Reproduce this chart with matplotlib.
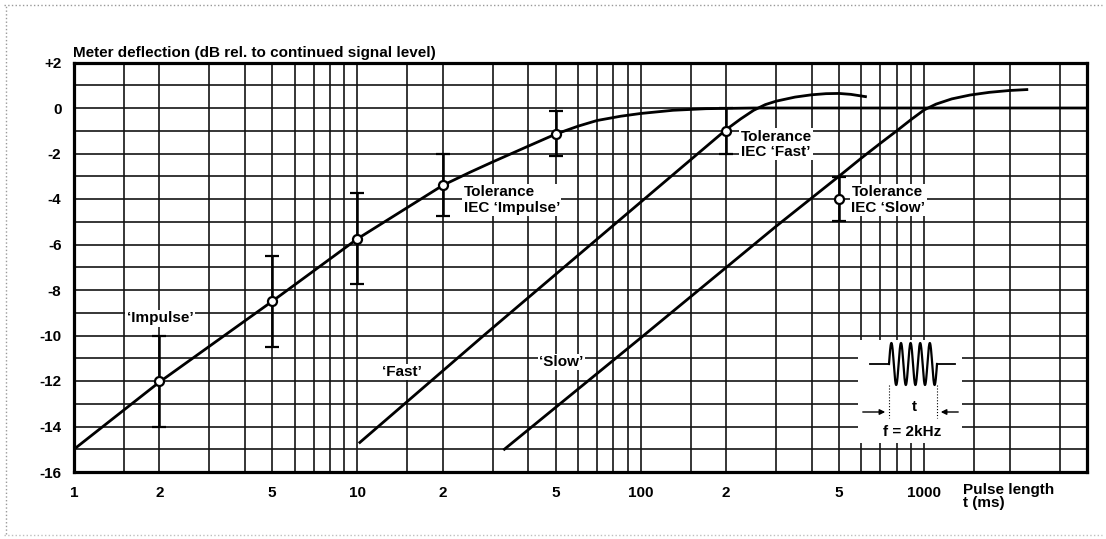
import numpy as np
import matplotlib
matplotlib.use("Agg")
import matplotlib.pyplot as plt
from matplotlib.lines import Line2D
from matplotlib.ticker import NullLocator

plt.rcParams['font.family'] = ['Liberation Sans', 'DejaVu Sans']
plt.rcParams['font.weight'] = 'bold'
plt.rcParams['font.size'] = 11

# meter responses to a 2 kHz tone burst (pulse length in ms, deflection in dB)
impulse_t = [1, 2, 5, 10, 20, 25, 30, 40, 50, 60, 70, 85, 100, 130, 170, 250, 3750]
impulse_db = [-15.0, -12.05, -8.5, -5.75, -3.4, -2.82, -2.37, -1.68, -1.15, -0.8,
              -0.55, -0.36, -0.24, -0.1, -0.03, 0.0, 0.0]

fast_t = [10.2, 28.2, 85.5, 200, 225, 250, 275, 300, 350, 400, 450, 500, 550, 620]
fast_db = [-14.7, -9.95, -4.85, -0.95, -0.48, -0.1, 0.15, 0.3, 0.48, 0.58, 0.63,
           0.64, 0.6, 0.5]

slow_t = [33, 100, 300, 500, 600, 700, 800, 900, 1000, 1100, 1250, 1450, 1700,
          2000, 2300]
slow_db = [-15.0, -10.1, -5.2, -3.0, -2.2, -1.55, -1.0, -0.5, -0.08, 0.17, 0.4,
           0.57, 0.69, 0.77, 0.81]

# IEC tolerance points
tol_t = [2, 5, 10, 20, 50, 200, 500]
tol_db = [-12.0, -8.5, -5.75, -3.4, -1.15, -1.0, -4.0]
tol_hi = [-10.0, -6.5, -3.75, -2.0, -0.12, 0.0, -3.05]
tol_lo = [-14.0, -10.5, -7.75, -4.75, -2.12, -2.0, -4.95]

xtick_vals = [1, 2, 5, 10, 20, 50, 100, 200, 500, 1000]
xtick_labels = ['1', '2', '5', '10', '2', '5', '100', '2', '5', '1000']
ytick_vals = [2, 0, -2, -4, -6, -8, -10, -12, -14, -16]
ytick_labels = ['+2', '0', '-2', '-4', '-6', '-8', '-10', '-12', '-14', '-16']

W, H = 1106, 539
fig = plt.figure(figsize=(W / 100, H / 100), dpi=100)
ax = fig.add_axes([74 / W, 1 - 472 / H, (1087 - 74) / W, (472 - 62.5) / H])
ax.set_xscale('log')
ax.set_xlim(1, 3750)
ax.set_ylim(-16, 2)

# log paper grid
grid_x = [m * 10 ** d for d in range(4) for m in (1, 1.5, 2, 3, 4, 5, 6, 7, 8, 9)]
for gx in grid_x:
    if 1 < gx < 3750:
        ax.axvline(gx, color='0.08', lw=1.2, zorder=1)
for gy in range(-15, 2):
    ax.axhline(gy, color='0.08', lw=1.2, zorder=1)

for s in ax.spines.values():
    s.set_linewidth(2.3)

ax.set_xticks(xtick_vals, xtick_labels)
ax.set_yticks(ytick_vals, ytick_labels)
ax.xaxis.set_minor_locator(NullLocator())
ax.tick_params(length=0, labelsize=11)
ax.tick_params(axis='x', pad=10)
ax.tick_params(axis='y', pad=9)

ax.plot(impulse_t, impulse_db, color='black', lw=2, zorder=3)
ax.plot(fast_t, fast_db, color='black', lw=2, zorder=3)
ax.plot(slow_t, slow_db, color='black', lw=2, zorder=3)

tol_db = np.array(tol_db)
yerr = [tol_db - np.array(tol_lo), np.array(tol_hi) - tol_db]
ax.errorbar(tol_t, tol_db, yerr=yerr, fmt='o', ms=6.5, mfc='white', mec='black',
            mew=1.6, ecolor='black', elinewidth=1.8, capsize=5, capthick=1.8, zorder=4)

box = dict(facecolor='white', edgecolor='none', pad=1)
ax.text(2.01, -9.25, '\u2018Impulse\u2019', ha='center', va='center', bbox=box, zorder=2)
ax.text(14.3, -11.6, '\u2018Fast\u2019', ha='center', va='center', bbox=box, zorder=2)
ax.text(52.5, -11.17, '\u2018Slow\u2019', ha='center', va='center', bbox=box, zorder=2)
ax.text(23.7, -4.05, 'Tolerance\nIEC \u2018Impulse\u2019', ha='left', va='center',
        linespacing=1.12, bbox=box, zorder=2)
ax.text(225, -1.59, 'Tolerance\nIEC \u2018Fast\u2019', ha='left', va='center',
        linespacing=1.12, bbox=box, zorder=2)
ax.text(553, -4.04, 'Tolerance\nIEC \u2018Slow\u2019', ha='left', va='center',
        linespacing=1.12, bbox=box, zorder=2)

fig.text(73 / W, 1 - 56.7 / H, 'Meter deflection (dB rel. to continued signal level)',
         ha='left', va='baseline', fontsize=11)
fig.text(963 / W, 1 - 483 / H, 'Pulse length\nt (ms)', ha='left', va='top',
         linespacing=0.95, fontsize=11)

# tone burst sketch
ins = fig.add_axes([858 / W, 1 - 443 / H, 104 / W, 103 / H])
ins.set_xlim(0, 104)
ins.set_ylim(103, 0)
ins.set_facecolor('white')
for s in ins.spines.values():
    s.set_visible(False)
ins.set_xticks([])
ins.set_yticks([])
xb = np.linspace(31, 79, 400)
yb = 24 - 21 * np.sin(2 * np.pi * 5 * (xb - 31) / 48)
ins.plot([12, 31], [24, 24], color='black', lw=1.3)
ins.plot(xb, yb, color='black', lw=1.6)
ins.plot([79, 97], [24, 24], color='black', lw=1.3)
ins.plot([31, 31], [45, 78], color='black', lw=0.8, ls=':')
ins.plot([79, 79], [45, 78], color='black', lw=0.8, ls=':')
ins.annotate('', xy=(30, 72), xytext=(2, 72),
             arrowprops=dict(arrowstyle='-|>', color='black', lw=1, mutation_scale=8))
ins.annotate('', xy=(80, 72), xytext=(103, 72),
             arrowprops=dict(arrowstyle='-|>', color='black', lw=1, mutation_scale=8))
ins.text(56, 67, 't', ha='center', va='center', fontsize=11)
ins.text(54, 92, 'f = 2kHz', ha='center', va='center', fontsize=11)

# scan border
fig.add_artist(Line2D([0.004, 0.996], [0.99, 0.99], color='0.6', lw=1, ls=':'))
fig.add_artist(Line2D([0.005, 0.005], [0.01, 0.99], color='0.6', lw=1, ls=':'))
fig.add_artist(Line2D([0.004, 0.996], [0.008, 0.008], color='0.75', lw=1, ls=':'))

fig.savefig('out.png', dpi=100, facecolor='white')
